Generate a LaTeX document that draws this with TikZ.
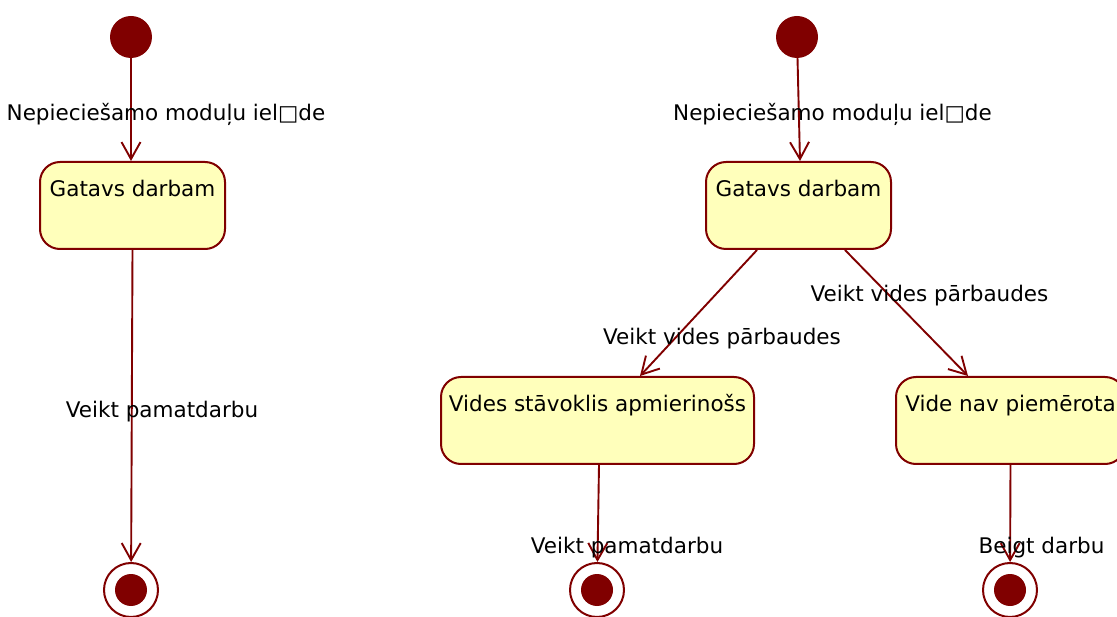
\documentclass[tikz,border=0pt]{standalone}
\usepackage{fontspec}
\setmainfont{DejaVu Sans}
\usetikzlibrary{arrows.meta}
\definecolor{umlred}{HTML}{800000}
\definecolor{umlfill}{HTML}{FFFFBB}
\newcommand{\fsz}{\fontsize{21.5}{25}\selectfont}
\tikzset{
  x=1pt, y=-1pt,
  statebox/.style={draw=umlred, fill=umlfill, line width=2pt, rounded corners=20pt,
    inner sep=0pt, text height=35pt, text depth=52pt, font=\fsz},
  initst/.style={circle, fill=umlred, minimum size=42pt, inner sep=0pt},
  finalst/.style={circle, draw=umlred, fill=white, line width=2pt, minimum size=54pt, inner sep=0pt,
    path picture={\fill[umlred] (path picture bounding box.center) circle (16pt);}},
  tr/.style={draw=umlred, line width=1.9pt, -{Straight Barb[length=17pt,width=19pt,line width=1.9pt]}},
  lbl/.style={font=\fsz, inner sep=0pt, anchor=base}
}
\begin{document}
\begin{tikzpicture}
\useasboundingbox (0,0) rectangle (1117,617);
\clip (0,0) rectangle (1117,617);
% left diagram
\node[initst] (i1) at (131,37) {};
\node[statebox, minimum width=185pt] (g1) at (132.5,205.5) {Gatavs darbam};
\node[finalst] (f1) at (131,590) {};
% right diagram
\node[initst] (i2) at (797,37) {};
\node[statebox, minimum width=185pt] (g2) at (798.5,205.5) {Gatavs darbam};
\node[statebox, minimum width=313pt] (v1) at (597.5,420.5) {Vides stāvoklis apmierinošs};
\node[statebox, minimum width=229pt] (v2) at (1010.5,420.5) {Vide nav piemērota};
\node[finalst] (f2) at (597,590) {};
\node[finalst] (f3) at (1010,590) {};
% transitions
\draw[tr] (i1) -- ([xshift=-1.5pt]g1.north);
\draw[tr] (g1.south) -- (f1);
\draw[tr] (i2) -- ([xshift=1.5pt]g2.north);
\draw[tr] ([xshift=-41.5pt]g2.south) -- ([xshift=42.5pt]v1.north);
\draw[tr] ([xshift=46.5pt]g2.south) -- ([xshift=-42.5pt]v2.north);
\draw[tr] ([xshift=1.5pt]v1.south) -- (f2);
\draw[tr] (v2.south) -- (f3);
% labels
\node[lbl] (l1) at (166,121) {Nepiecie\v{s}amo moduļu iel□de};
\node[lbl] (l2) at (162,418) {Veikt pamatdarbu};
\node[lbl] (l3) at (832.5,121) {Nepiecie\v{s}amo moduļu iel□de};
\node[lbl] (l4) at (722,345) {Veikt vides pārbaudes};
\node[lbl] (l5) at (929.5,302) {Veikt vides pārbaudes};
\node[lbl] (l6) at (627,553) {Veikt pamatdarbu};
\node[lbl] (l7) at (1041.5,553) {Beigt darbu};
\end{tikzpicture}
\end{document}
